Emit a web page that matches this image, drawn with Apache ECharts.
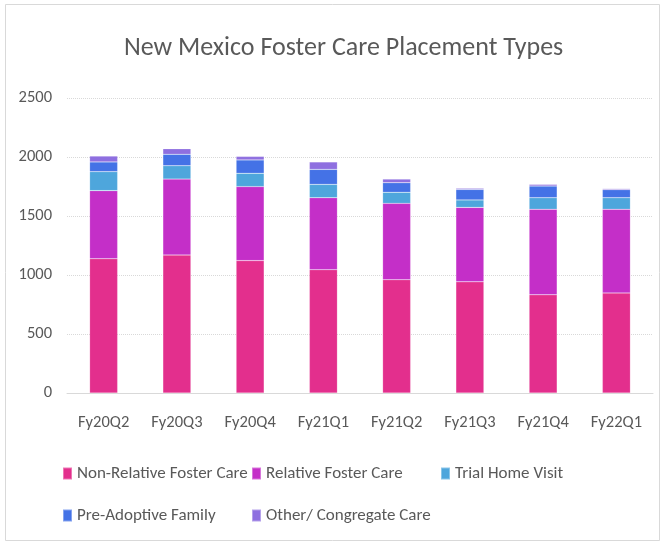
<!DOCTYPE html>
<html>
<head>
<meta charset="utf-8">
<script src="https://cdn.jsdelivr.net/npm/echarts@6/dist/echarts.min.js"></script>
<style>
  html, body { margin: 0; padding: 0; background: #fff; }
  #main { width: 665px; height: 546px; }
</style>
</head>
<body>
<div id="main"></div>
<script>
// 季度
var quarters = ['Fy20Q2', 'Fy20Q3', 'Fy20Q4', 'Fy21Q1', 'Fy21Q2', 'Fy21Q3', 'Fy21Q4', 'Fy22Q1'];
// 各类安置人数
var nonRelative = [1138, 1169, 1122, 1045, 960, 942, 832, 848];
var relative = [577, 644, 627, 610, 647, 631, 725, 709];
var trialHome = [161, 113, 113, 113, 94, 63, 98, 98];
var preAdoptive = [82, 97, 113, 127, 81, 89, 99, 68];
var otherCongregate = [50, 47, 30, 63, 31, 10, 14, 9];
var yTicks = [0, 500, 1000, 1500, 2000, 2500];

var font = "Carlito, Lato, sans-serif";
var names = ['Non-Relative Foster Care', 'Relative Foster Care', 'Trial Home Visit',
  'Pre-Adoptive Family', 'Other/ Congregate Care'];
var colors = ['#E32F8D', '#C42FC8', '#4EA6DC', '#4472E6', '#8E6FE0'];
var values = [nonRelative, relative, trialHome, preAdoptive, otherCongregate];

var myChart = echarts.init(document.getElementById('main'));

// 图例位置：两行
var legendPos = [[62, 465], [251, 465], [440, 465], [62, 507], [251, 507]];
var legends = names.map(function (n, i) {
  return {
    left: legendPos[i][0],
    top: legendPos[i][1],
    padding: 0,
    itemWidth: 9,
    itemHeight: 12,
    itemGap: 0,
    icon: 'rect',
    data: [n],
    textStyle: {
      fontFamily: font,
      fontSize: 17,
      color: '#595959'
    }
  };
});

myChart.setOption({
  animation: false,
  backgroundColor: '#fff',
  color: colors,
  title: {
    text: 'New Mexico Foster Care Placement Types',
    left: 119,
    top: 30,
    textStyle: {
      fontFamily: font,
      fontSize: 26,
      fontWeight: 'normal',
      color: '#595959'
    }
  },
  graphic: [{
    type: 'rect',
    shape: { x: 5.5, y: 4.5, width: 654, height: 536 },
    style: { fill: 'none', stroke: '#d9d9d9', lineWidth: 1 },
    silent: true
  }],
  legend: legends,
  grid: {
    left: 67,
    right: 12,
    top: 98,
    bottom: 153
  },
  xAxis: {
    type: 'category',
    data: quarters,
    axisLine: { lineStyle: { color: '#d9d9d9' } },
    axisTick: { show: false },
    axisLabel: {
      interval: 0,
      fontFamily: font,
      fontSize: 16.5,
      color: '#595959',
      margin: 21
    }
  },
  yAxis: {
    type: 'value',
    min: yTicks[0],
    max: yTicks[yTicks.length - 1],
    interval: 500,
    axisLine: { show: false },
    axisTick: { show: false },
    axisLabel: {
      fontFamily: font,
      fontSize: 16.5,
      color: '#595959',
      margin: 15,
      formatter: function (v) { return String(v); }
    },
    splitLine: {
      lineStyle: { color: '#d9d9d9', type: 'dotted', width: 1 }
    }
  },
  series: values.map(function (arr, i) {
    return {
      name: names[i],
      type: 'bar',
      stack: 'total',
      barWidth: 28,
      data: arr,
      itemStyle: { borderColor: 'rgba(255,255,255,0.35)', borderWidth: 0.5 }
    };
  })
});
</script>
</body>
</html>
